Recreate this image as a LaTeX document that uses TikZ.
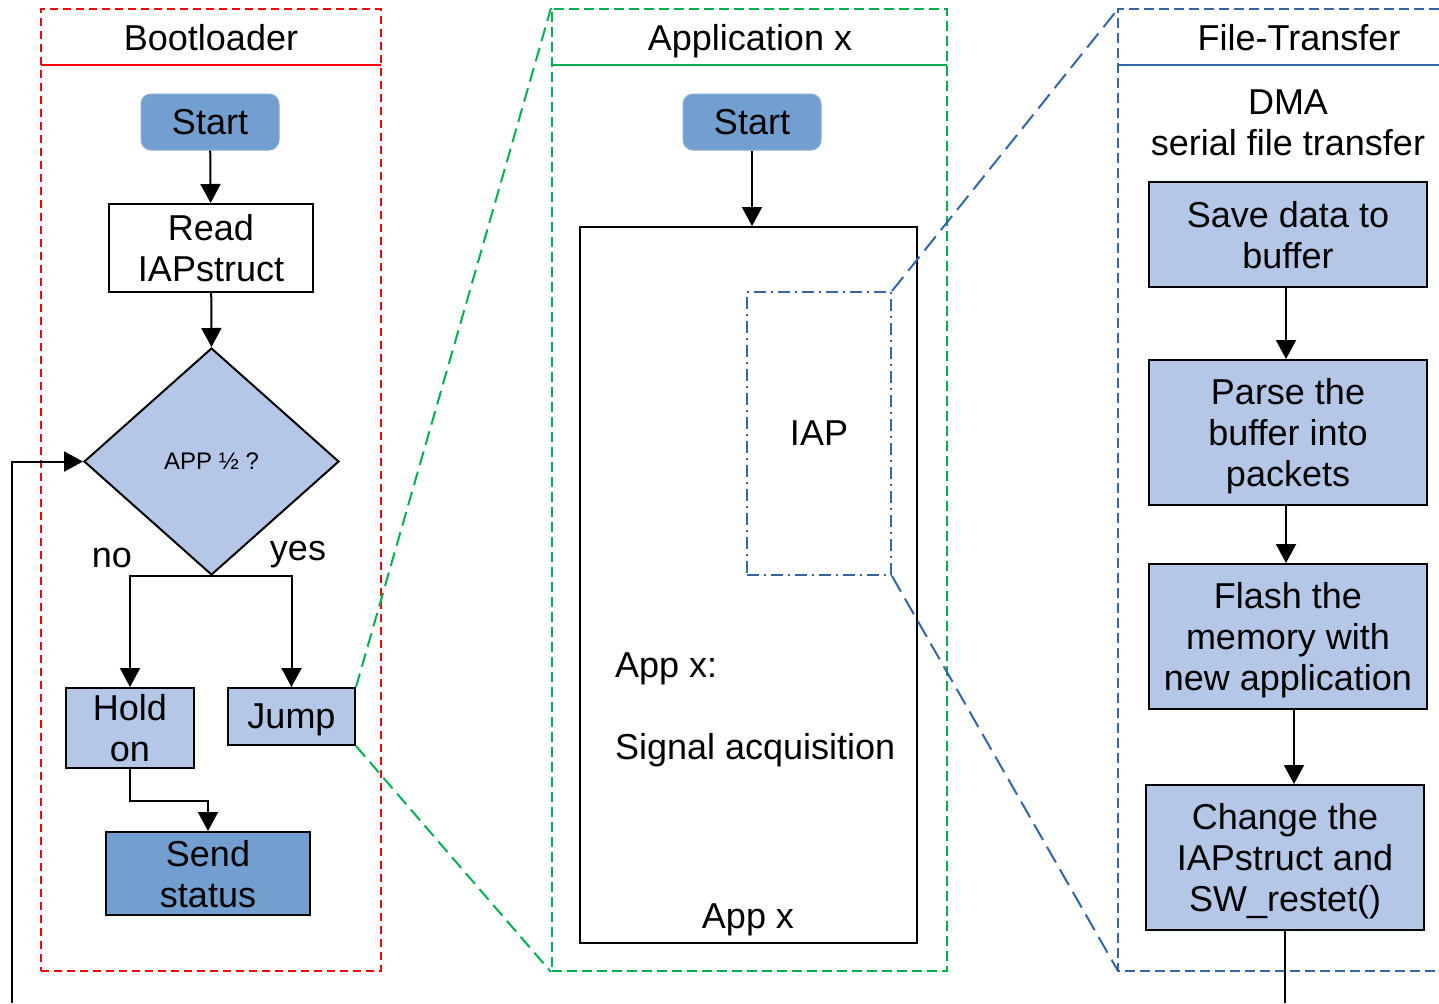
\documentclass[tikz,border=0pt]{standalone}
\usepackage{fontspec}
\setmainfont{Liberation Sans}
\usetikzlibrary{shapes.geometric,arrows.meta,calc}
\definecolor{lblue}{HTML}{B4C7E7}
\definecolor{sblue}{HTML}{729FCF}
\definecolor{fred}{HTML}{FF0000}
\definecolor{fgreen}{HTML}{00B050}
\definecolor{fblue}{HTML}{3465A4}
\begin{document}
\begin{tikzpicture}[x=0.5pt,y=-0.5pt,
  font=\fontsize{18}{20.5}\selectfont,
  every node/.style={text depth=0pt},
  line width=1pt,
  arr/.style={-{Triangle[length=9.5pt,width=10pt]}},
  startbox/.style={rounded corners=5pt,fill=sblue,draw=sblue!85,line width=0.5pt,minimum width=69pt,minimum height=28pt,inner sep=0pt},
  procbox/.style={draw=black,fill=lblue,align=center,inner sep=0pt},
  frame/.style={inner sep=0pt,minimum width=#1},
  reddash/.style={draw=fred,dash pattern=on 4pt off 2.5pt},
  greendash/.style={draw=fgreen,dash pattern=on 5pt off 2.5pt},
  bluedash/.style={draw=fblue,dash pattern=on 5pt off 2.5pt},
  greenzoom/.style={draw=fgreen,dash pattern=on 7pt off 3.5pt},
  bluezoom/.style={draw=fblue,dash pattern=on 9pt off 4pt},
  label/.style={inner sep=0pt}
]
\useasboundingbox (0,0) rectangle (1439,1003);

% ---------- frames ----------
\node[frame=170pt,minimum height=481pt,reddash] (bootframe) at (211,490) {};
\draw[fred] (41,65) -- (381,65);
\node[label] (boottitle) at (211,37) {Bootloader};

\node[frame=197.5pt,minimum height=481pt,greendash] (appframe) at (749.5,490) {};
\draw[fgreen] (552,65) -- (947,65);
\node[label] (apptitle) at (750,37) {Application x};

\coordinate (ftl) at (1118,9);
\coordinate (fbl) at (1118,971);
\draw[bluedash] (1439,9) -- (ftl) -- (fbl) -- (1439,971);
\draw[fblue] (1118,65) -- (1439,65);
\node[label] (filetitle) at (1299,37) {File-Transfer};

% ---------- Bootloader ----------
\node[startbox] (bstart) at (210,122) {Start};
\node[draw=black,fill=white,align=center,inner sep=0pt,minimum width=102pt,minimum height=44pt] (read) at (211,248) {Read\\IAPstruct};
\node[diamond,draw=black,fill=lblue,inner sep=0pt,minimum width=127.5pt,minimum height=113.5pt,font=\fontsize{12}{14}\selectfont] (dia) at (211.5,461.5) {APP ½ ?};
\node[procbox,minimum width=64pt,minimum height=40pt] (hold) at (130,728) {Hold\\on};
\node[procbox,minimum width=63.5pt,minimum height=28.5pt] (jump) at (291.5,716.5) {Jump};
\node[procbox,fill=sblue,minimum width=102pt,minimum height=41.5pt] (send) at (208,873.5) {Send\\status};
\node[label] (nolbl) at (112,558) {no};
\node[label] (yeslbl) at (298,551) {yes};

\draw[arr] (bstart) -- (read);
\draw[arr] (read) -- (dia.north);
\draw[arr] (dia.south) -| (hold.north);
\draw[arr] (dia.south) -| (jump.north);
\draw[arr] (hold.south) -- ++(0,32) -| (send.north);
\coordinate (loopend) at (12,1003);
\draw[arr] (loopend) |- (dia.west);

% ---------- Application x ----------
\node[startbox] (astart) at (752,122) {Start};
\node[draw=black,fill=white,inner sep=0pt,minimum width=168.5pt,minimum height=358pt] (appbox) at (748.5,585) {};
\node[inner sep=0pt,minimum width=72pt,minimum height=141.5pt,draw=fblue,dash pattern=on 6pt off 2.5pt on 1pt off 2.5pt] (iap) at (819,433.5) {IAP};
\node[label,anchor=west] (appxa) at (614,665) {App x:};
\node[label,anchor=west] (sigacq) at (614,746) {Signal acquisition};
\node[label] (appxb) at (748,916) {App x};
\draw[arr] (astart) -- (astart |- appbox.north);

% ---------- File-Transfer ----------
\node[label,align=center] (dma) at (1288,123) {DMA\\serial file transfer};
\node[procbox,minimum width=139pt,minimum height=52.5pt] (save) at (1288,234.5) {Save data to\\buffer};
\node[procbox,minimum width=139pt,minimum height=72.5pt] (parse) at (1288,432.5) {Parse the\\buffer into\\packets};
\node[procbox,minimum width=139pt,minimum height=72.5pt] (flash) at (1288,636.5) {Flash the\\memory with\\new application};
\node[procbox,minimum width=139pt,minimum height=72.5pt] (change) at (1285,857.5) {Change the\\IAPstruct and\\SW\_restet()};
\draw[arr] ([xshift=-1pt]save.south) -- ([xshift=-1pt]parse.north);
\draw[arr] ([xshift=-1pt]parse.south) -- ([xshift=-1pt]flash.north);
\draw[arr] ([xshift=3pt]flash.south) -- ([xshift=3pt]flash.south |- change.north);
\coordinate (changeend) at (1285,1003);
\draw (change.south) -- (changeend);

% ---------- zoom lines ----------
\draw[greenzoom] (jump.north east) -- (appframe.north west);
\draw[greenzoom] (jump.south east) -- (appframe.south west);
\draw[bluezoom] (iap.north east) -- (ftl);
\draw[bluezoom] (iap.south east) -- (fbl);
\end{tikzpicture}
\end{document}
